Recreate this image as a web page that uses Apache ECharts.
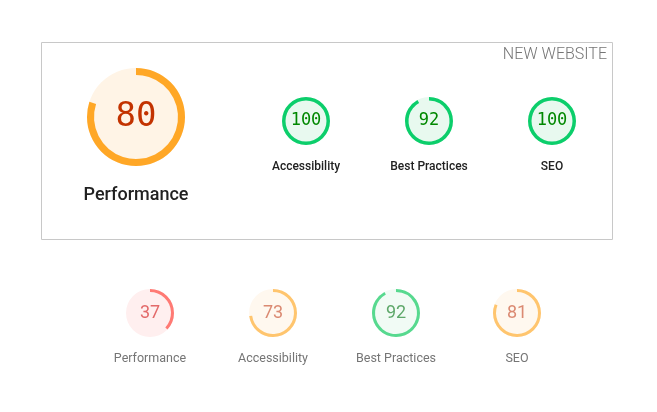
<!DOCTYPE html>
<html><head><meta charset="utf-8">
<script src="https://cdn.jsdelivr.net/npm/echarts@6/dist/echarts.min.js"></script>
<style>html,body{margin:0;padding:0;background:#fff}#c{width:657px;height:412px}</style>
</head><body><div id="c"></div>
<script>
const categories = ['Performance', 'Accessibility', 'Best Practices', 'SEO'];
const newScores = [80, 100, 92, 100];
const oldScores = [37, 73, 92, 81];
const boxTitle = 'NEW WEBSITE';

function palette(v, faded) {
  if (v >= 90) return faded
    ? { ring: '#57d98f', fill: '#f1fbf5', text: '#5ea86a' }
    : { ring: '#0cce6b', fill: '#e8f9ef', text: '#008800' };
  if (v >= 50) return faded
    ? { ring: '#ffc56e', fill: '#fff8ef', text: '#db8a72' }
    : { ring: '#ffa726', fill: '#fff4e6', text: '#c33300' };
  return faded
    ? { ring: '#ff7a74', fill: '#ffefef', text: '#e36a6a' }
    : { ring: '#ff4e42', fill: '#ffeeee', text: '#cc0000' };
}

function gauge(name, v, cx, cy, r, ring, numSize, labelSize, labelOff, faded, mono, labelColor, labelWeight) {
  const p = palette(v, faded);
  return {
    type: 'gauge', center: [cx, cy], radius: r,
    startAngle: 90, endAngle: -270, min: 0, max: 100,
    pointer: { show: false }, axisTick: { show: false }, splitLine: { show: false }, axisLabel: { show: false },
    axisLine: { lineStyle: { width: r, color: [[1, p.fill]] } },
    progress: { show: true, width: ring, itemStyle: { color: p.ring } },
    anchor: { show: false },
    title: { show: true, offsetCenter: [0, labelOff], fontSize: labelSize, color: labelColor, fontFamily: 'Roboto', fontWeight: labelWeight },
    detail: { show: true, offsetCenter: [0, 0], fontSize: numSize, color: p.text,
      fontFamily: mono ? 'DejaVu Sans Mono' : 'Roboto', fontWeight: 'normal', formatter: '{value}' },
    data: [{ value: v, name: name }],
    animation: false
  };
}

const series = [];
series.push(gauge(categories[0], newScores[0], 136, 117, 49, 7, 34, 18, 78, false, true, '#212121', 500));
const topX = [306, 429, 552];
for (let i = 1; i < 4; i++) series.push(gauge(categories[i], newScores[i], topX[i - 1], 121, 24, 3.5, 17, 12, 46, false, true, '#212121', 500));
const botX = [150, 273, 396, 517];
for (let i = 0; i < 4; i++) series.push(gauge(categories[i], oldScores[i], botX[i], 313, 24, 3, 18, 12.5, 46, true, false, '#757575', 'normal'));

const chart = echarts.init(document.getElementById('c'), null, { renderer: 'canvas' });
chart.setOption({
  animation: false,
  graphic: [
    { type: 'rect', shape: { x: 41.5, y: 42.5, width: 571, height: 197 }, style: { fill: 'none', stroke: '#c8c8c8', lineWidth: 1 }, z: -1 },
    { type: 'text', right: 50, top: 47, style: { text: boxTitle, fontSize: 16, fill: '#757575', fontFamily: 'Roboto', fontWeight: 300, textAlign: 'right' } }
  ],
  series: series
});
</script></body></html>
